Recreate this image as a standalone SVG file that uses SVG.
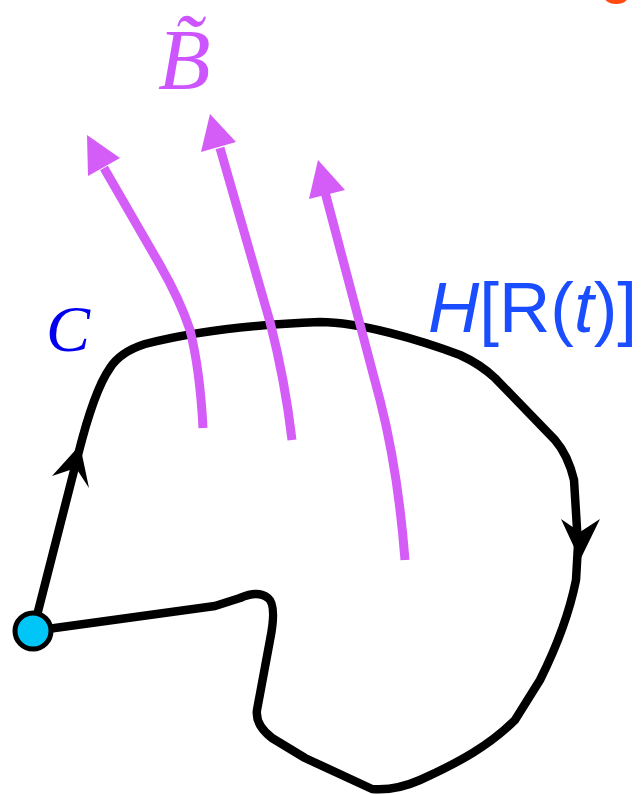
<svg xmlns="http://www.w3.org/2000/svg" width="643" height="795" viewBox="0 0 643 795">
<style>
.loop{fill:none;stroke:#000;stroke-width:8.5;stroke-linejoin:round;stroke-linecap:round}
.field{fill:none;stroke:#d45cf7;stroke-width:9;stroke-linecap:butt}
.fhead{fill:#d45cf7}
.ahead{fill:#000}
</style>
<rect width="643" height="795" fill="#fff"/>
<g id="connectors">
<path class="loop" d="M33,631 L78,455 C88,415 98,385 110,368 Q120,352 145,344 C180,335 240,325 320,322 C360,322 420,340 460,355 Q480,364 495,378 L555,440 Q568,455 574,480 L578,545 L576,580 C570,610 560,640 540,680 L515,720 C490,745 460,762 420,780 Q395,791 372,789 L305,758 L272,738 Q255,725 257,710 L270,640 Q277,605 268,598 Q258,590 240,598 L215,606 Z"/>
<path class="ahead" d="M80,445 L52,476 L76,468 L89,488 Z"/>
<path class="ahead" d="M580,560 L561,519 L580,532 L600,519 Z"/>
<path class="field" d="M203,428 Q200,370 190,330 Q180,300 160,265 L104,168"/>
<path class="fhead" d="M87,135 L88,176 L120,158 Z"/>
<path class="field" d="M292,440 Q285,380 270,322 L220,148"/>
<path class="fhead" d="M210,114 L201,152 L236,142 Z"/>
<path class="field" d="M405,560 Q398,470 380,400 L325,192"/>
<path class="fhead" d="M318,160 L309,199 L345,190 Z"/>
</g>
<g id="start-node">
<circle cx="33" cy="631" r="18" fill="#00c6f7" stroke="#000" stroke-width="5"/>
</g>
<g id="label-B">
<text x="158" y="89" font-family="Liberation Serif, serif" font-style="italic" font-size="86" fill="#cc55ff">B&#771;</text>
</g>
<g id="label-H">
<text x="428" y="332" font-family="Liberation Sans, sans-serif" font-size="71" fill="#1a4dff"><tspan font-style="italic">H</tspan>[R(<tspan font-style="italic">t</tspan>)]</text>
</g>
<g id="label-C">
<text x="46" y="351" font-family="Liberation Serif, serif" font-style="italic" font-size="66" fill="#0000ee">C</text>
</g>
<g id="label-g">
<text x="600" y="-8" font-family="Liberation Sans, sans-serif" font-size="60" fill="#ff4a10">g</text>
</g>
</svg>
